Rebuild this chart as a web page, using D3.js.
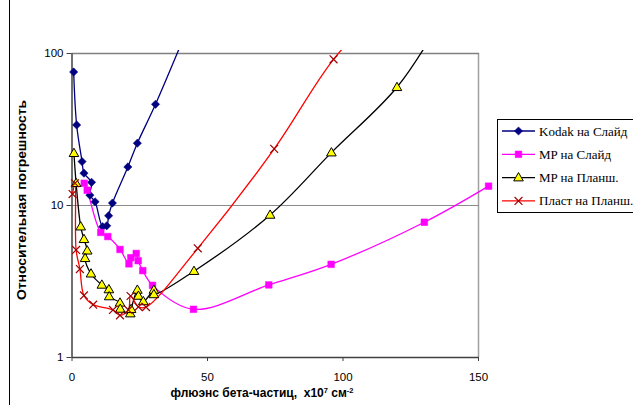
<!DOCTYPE html>
<html>
<head>
<meta charset="utf-8">
<script src="https://cdn.jsdelivr.net/npm/d3@7"></script>
<style>
  body { margin: 0; background: #fff; }
  svg { display: block; }
</style>
</head>
<body>
<div id="svg-container"></div>
<script>
// Kodak на Слайд
const kodakX = [0.8, 1.9, 3.9, 4.6, 7.4, 6.8, 8.7, 11.5, 13.0, 13.7, 15.1, 20.8, 24.3, 31.0, 45];
const kodakY = [75, 33.6, 19.3, 16.2, 14.1, 11.6, 10.5, 7.2, 7.3, 8.5, 10.3, 17.8, 25.5, 46, 180];
// MP на Слайд
const mpSlideX = [4.7, 5.8, 10.8, 13.4, 17.9, 21.2, 21.9, 23.9, 24.6, 26.3, 29.9, 45.0, 72.8, 95.8, 130.2, 153.9];
const mpSlideY = [13.9, 12.5, 6.6, 6.2, 5.1, 4.1, 4.5, 4.8, 4.3, 3.7, 2.96, 2.06, 2.98, 4.07, 7.7, 13.3];
// MP на Планш.
const mpPlanX = [0.9, 1.7, 3.4, 4.6, 5.8, 5.0, 7.2, 11.2, 13.8, 13.9, 17.9, 18.0, 21.7, 22.0, 24.3, 24.7, 26.5, 30.4, 30.4, 45.2, 73.3, 95.9, 120.1, 135];
const mpPlanY = [21.9, 13.9, 7.2, 5.95, 5.0, 4.46, 3.53, 2.98, 2.78, 2.5, 2.27, 2.07, 1.93, 2.06, 2.76, 2.52, 2.32, 2.76, 2.58, 3.67, 8.6, 22.1, 59.5, 150];
// Пласт на Планш.
const plastX = [0.4, 1.3, 1.7, 3.1, 4.6, 8.0, 15.3, 17.9, 21.0, 21.8, 24.7, 27.5, 46.6, 74.8, 96.7, 115];
const plastY = [11.8, 13.9, 5.06, 3.79, 2.54, 2.21, 2.04, 1.88, 2.04, 2.52, 2.14, 2.13, 5.19, 23.4, 90.9, 200];

const seriesNames = ['Kodak на Слайд', 'MP на Слайд', 'MP на Планш.', 'Пласт на Планш.'];
const xTicks = [0, 50, 100, 150];
const yTicks = [1, 10, 100];

const w = 633;
const h = 405;
const pLeft = 71.5, pRight = 478, pTop = 53, pBottom = 357;

const svg = d3.select('#svg-container')
  .append('svg')
  .attr('width', w)
  .attr('height', h);

const xScale = d3.scaleLinear().domain([0, 150]).range([pLeft, pRight]);
const yScale = d3.scaleLog().domain([1, 100]).range([pBottom, pTop]);

// outer chart border (left edge)
svg.append('line')
  .attr('x1', 9.5).attr('x2', 9.5)
  .attr('y1', 0).attr('y2', h)
  .attr('stroke', '#000').attr('stroke-width', 1);

// plot area frame: right edge
svg.append('line')
  .attr('x1', pRight + 0.5).attr('x2', pRight + 0.5)
  .attr('y1', pTop).attr('y2', pBottom)
  .attr('stroke', '#a0a0a0').attr('stroke-width', 1.5);

// gridlines
svg.selectAll('.grid')
  .data([10, 100])
  .enter()
  .append('line')
  .attr('x1', pLeft).attr('x2', pRight + 1)
  .attr('y1', d => Math.round(yScale(d)) + 0.5)
  .attr('y2', d => Math.round(yScale(d)) + 0.5)
  .attr('stroke', d => d === 100 ? '#808080' : '#8c8c8c')
  .attr('stroke-width', d => d === 100 ? 1.5 : 1);

// axes
const xAxis = d3.axisBottom(xScale).tickValues(xTicks).tickSize(4).tickSizeOuter(0).tickPadding(12);
const yAxis = d3.axisLeft(yScale).tickValues(yTicks).tickFormat(d3.format('d')).tickSize(5).tickSizeOuter(0).tickPadding(3);

const gx = svg.append('g')
  .attr('transform', 'translate(0,' + pBottom + ')')
  .call(xAxis);
const gy = svg.append('g')
  .attr('transform', 'translate(' + pLeft + ',0)')
  .call(yAxis);

[gx, gy].forEach(g => {
  g.select('.domain').attr('stroke', '#404040').attr('stroke-width', 1.5);
  g.selectAll('.tick line').attr('stroke', '#404040');
  g.selectAll('.tick text')
    .attr('fill', '#000')
    .style('font-family', 'Liberation Sans, Arial, sans-serif')
    .style('font-size', '11.5px');
});

// series
svg.append('clipPath').attr('id', 'clip')
  .append('rect')
  .attr('x', 0).attr('y', pTop - 3)
  .attr('width', w).attr('height', pBottom - pTop + 3);

const line = d3.line()
  .x(d => xScale(d[0]))
  .y(d => yScale(d[1]))
  .curve(d3.curveCatmullRom.alpha(0.5));

const series = [
  { name: seriesNames[0], xs: kodakX, ys: kodakY, color: '#000080', marker: 'diamond', fill: '#000080', mstroke: '#000080' },
  { name: seriesNames[1], xs: mpSlideX, ys: mpSlideY, color: '#ff00ff', marker: 'square', fill: '#ff00ff', mstroke: '#ff00ff' },
  { name: seriesNames[2], xs: mpPlanX, ys: mpPlanY, color: '#000000', marker: 'triangle', fill: '#ffff00', mstroke: '#000000' },
  { name: seriesNames[3], xs: plastX, ys: plastY, color: '#ff0000', marker: 'cross', fill: 'none', mstroke: '#a00000' }
];

const symbolFor = m => {
  if (m === 'diamond') return d3.symbol().type(d3.symbolSquare).size(34);
  if (m === 'square') return d3.symbol().type(d3.symbolSquare).size(44);
  if (m === 'triangle') return d3.symbol().type(d3.symbolTriangle).size(40);
  return d3.symbol().type(d3.symbolTimes).size(42);
};

const drawMarker = (g, s, x, y) => {
  const p = g.append('path')
    .attr('d', symbolFor(s.marker)())
    .attr('fill', s.fill)
    .attr('stroke', s.mstroke);
  if (s.marker === 'diamond') {
    p.attr('transform', 'translate(' + x + ',' + y + ') rotate(45)').attr('stroke-width', 0.5);
  } else if (s.marker === 'triangle') {
    p.attr('transform', 'translate(' + x + ',' + (y + 0.5) + ')').attr('stroke-width', 1);
  } else if (s.marker === 'cross') {
    p.attr('transform', 'translate(' + x + ',' + y + ')').attr('stroke-width', 1.2);
  } else {
    p.attr('transform', 'translate(' + x + ',' + y + ')').attr('stroke-width', 0.5);
  }
};

const plot = svg.append('g').attr('clip-path', 'url(#clip)');

series.forEach(s => {
  const pts = s.xs.map((x, i) => [x, s.ys[i]]);
  plot.append('path')
    .datum(pts)
    .attr('d', line)
    .attr('fill', 'none')
    .attr('stroke', s.color)
    .attr('stroke-width', 1.3);
});

const markers = svg.append('g');
series.forEach(s => {
  s.xs.forEach((x, i) => {
    if (s.ys[i] > 100) return;
    drawMarker(markers, s, xScale(x), yScale(s.ys[i]));
  });
});

// legend
const legend = svg.append('g');
legend.append('rect')
  .attr('x', 497.5).attr('y', 119.5)
  .attr('width', 150).attr('height', 93)
  .attr('fill', '#fff')
  .attr('stroke', '#000')
  .attr('stroke-width', 1);

series.forEach((s, i) => {
  const ly = 131 + i * 23.3;
  legend.append('line')
    .attr('x1', 502).attr('x2', 535)
    .attr('y1', ly).attr('y2', ly)
    .attr('stroke', s.color).attr('stroke-width', 1.3);
  drawMarker(legend, s, 518.5, ly);
  legend.append('text')
    .attr('x', 539)
    .attr('y', ly + 4.5)
    .style('font-family', 'Liberation Serif, Times New Roman, serif')
    .style('font-size', '13px')
    .text(s.name);
});

// axis titles
const xt = svg.append('text')
  .attr('x', 262)
  .attr('y', 397)
  .attr('text-anchor', 'middle')
  .style('white-space', 'pre')
  .style('font-family', 'Liberation Sans, Arial, sans-serif')
  .style('font-size', '12px')
  .style('font-weight', 'bold');
xt.append('tspan').text('флюэнс бета-частиц,  x10');
xt.append('tspan').attr('dy', -4.5).style('font-size', '7.5px').text('7');
xt.append('tspan').attr('dy', 4.5).text(' см');
xt.append('tspan').attr('dy', -4.5).style('font-size', '7.5px').text('-2');

svg.append('text')
  .attr('transform', 'translate(26,' + 200 + ') rotate(-90)')
  .attr('text-anchor', 'middle')
  .attr('textLength', 200)
  .attr('lengthAdjust', 'spacingAndGlyphs')
  .style('font-family', 'Liberation Sans, Arial, sans-serif')
  .style('font-size', '12.5px')
  .style('font-weight', 'bold')
  .text('Относительная погрешность');
</script>
</body>
</html>
